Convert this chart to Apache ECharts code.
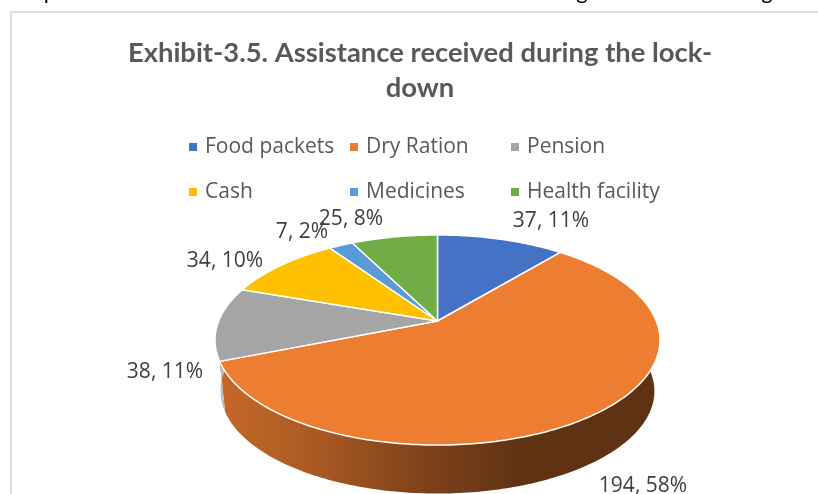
<!DOCTYPE html>
<html>
<head>
<meta charset="utf-8">
<style>
  html, body { margin: 0; padding: 0; background: #fff; }
  #chart { width: 818px; height: 494px; }
</style>
</head>
<body>
<div id="chart"></div>
<script src="https://cdn.jsdelivr.net/npm/echarts@6/dist/echarts.min.js"></script>
<script>
const categories = ['Food packets', 'Dry Ration', 'Pension', 'Cash', 'Medicines', 'Health facility'];
const values = [37, 194, 38, 34, 7, 25];
const percents = [11, 58, 11, 10, 2, 8];
const colors = ['#4472C4', '#ED7D31', '#A5A5A5', '#FFC000', '#5B9BD5', '#70AD47'];
const wallColors = ['#4472C4', '#ED7D31', '#E2E4E8', '#FFC000', '#5B9BD5', '#70AD47'];

// where the data labels sit, in the same order as the categories
const labelSpots = [[551, 221], [643, 486], [165, 372], [225, 261], [302, 232], [351, 219]];

// bits of the body text line above the chart, cut off by the crop
const croppedText = [['p', 50], ['g', 582], ['g', 767]];

const total = values.reduce((a, b) => a + b, 0);

// start angle of each slice, clockwise from 12 o'clock
const startAngles = [];
values.reduce((sum, v, i) => {
  startAngles[i] = (sum / total) * 360;
  return sum + v;
}, 0);

// perspective projection of the pie disc
const apex = { x: 437.5, y: 321 };
const disc = { a: 218.8, b: 101.6, c: 0.181 };
const bottomPlane = { scale: 0.975, drop: 51.6 };

function project(deg, scale = 1, drop = 0) {
  const rad = (deg * Math.PI) / 180;
  const u = Math.sin(rad);
  const v = -Math.cos(rad);
  const d = 1 - disc.c * v;
  return [
    apex.x + (scale * disc.a * u) / d,
    apex.y + drop + (scale * disc.b * v) / d,
  ];
}

function arc(from, to, scale, drop) {
  const steps = Math.max(2, Math.ceil(to - from));
  const pts = [];
  for (let i = 0; i <= steps; i++) {
    pts.push(project(from + ((to - from) * i) / steps, scale, drop));
  }
  return pts;
}

function shade(hex, f) {
  const n = parseInt(hex.slice(1), 16);
  const ch = [n >> 16, (n >> 8) & 255, n & 255].map(c => Math.round(c * f));
  return `rgb(${ch.join(',')})`;
}

function wallFill(color) {
  return {
    type: 'linear',
    global: true,
    x: 220,
    y: 0,
    x2: 660,
    y2: 0,
    colorStops: [
      { offset: 0, color: shade(color, 0.83) },
      { offset: 0.18, color: shade(color, 0.74) },
      { offset: 0.41, color: shade(color, 0.57) },
      { offset: 0.68, color: shade(color, 0.4) },
      { offset: 1, color: shade(color, 0.4) },
    ],
  };
}

function sweepOf(index, value) {
  return [startAngles[index], startAngles[index] + (value / total) * 360];
}

function renderWall(params, api) {
  const i = params.dataIndex;
  const [from, to] = sweepOf(i, api.value(0));
  const upper = arc(from, to);
  const lower = arc(from, to, bottomPlane.scale, bottomPlane.drop).reverse();
  return {
    type: 'polygon',
    shape: { points: upper.concat(lower) },
    style: { fill: wallFill(wallColors[i]) },
  };
}

function renderSlice(index) {
  return (params, api) => {
    const value = api.value(0);
    const [from, to] = sweepOf(index, value);
    return {
      type: 'group',
      children: [
        {
          type: 'polygon',
          shape: { points: [[apex.x, apex.y]].concat(arc(from, to)) },
          style: { fill: colors[index], stroke: '#fff', lineWidth: 1.5, lineJoin: 'round' },
        },
        {
          type: 'text',
          z2: 10,
          style: {
            x: labelSpots[index][0],
            y: labelSpots[index][1],
            text: `${value}, ${percents[index]}%`,
            align: 'center',
            verticalAlign: 'middle',
            fill: '#404040',
            font: '21px "Open Sans"',
          },
        },
      ],
    };
  };
}

const legendText = {
  color: '#595959',
  fontFamily: 'Open Sans',
  fontSize: 21,
  lineHeight: 28,
  padding: [0, 0, 0, 3],
};

function legendColumn(left, names) {
  return {
    left,
    top: 133,
    orient: 'vertical',
    icon: 'rect',
    itemWidth: 8,
    itemHeight: 8,
    itemGap: 17,
    padding: 0,
    selectedMode: false,
    data: names,
    textStyle: legendText,
  };
}

const option = {
  animation: false,
  title: {
    text: 'Exhibit-3.5. Assistance received during the lock-\ndown',
    left: 420,
    top: 36,
    textAlign: 'center',
    padding: 0,
    textStyle: {
      color: '#595959',
      fontFamily: 'Lato',
      fontWeight: 'bold',
      fontSize: 27.4,
      lineHeight: 35,
    },
  },
  legend: [
    legendColumn(189, [categories[0], categories[3]]),
    legendColumn(350, [categories[1], categories[4]]),
    legendColumn(511, [categories[2], categories[5]]),
  ],
  graphic: [
    {
      type: 'polyline',
      shape: { points: [[11, 494], [11, 12], [818, 12]] },
      style: { stroke: '#DEDEDE', lineWidth: 2, fill: null },
      silent: true,
    },
    ...croppedText.map(([text, x]) => ({
      type: 'text',
      silent: true,
      style: {
        x,
        y: -8,
        text,
        align: 'center',
        verticalAlign: 'middle',
        fill: '#000',
        font: '22px Lato',
      },
    })),
  ],
  series: [
    {
      name: 'walls',
      type: 'custom',
      coordinateSystem: 'none',
      z: 1,
      silent: true,
      data: values.map(v => [v]),
      renderItem: renderWall,
    },
    ...categories.map((name, i) => ({
      name,
      type: 'custom',
      coordinateSystem: 'none',
      z: 2,
      silent: true,
      itemStyle: { color: colors[i] },
      data: [[values[i]]],
      renderItem: renderSlice(i),
    })),
  ],
};

const myChart = echarts.init(document.getElementById('chart'), null, { renderer: 'canvas' });
myChart.setOption(option);
</script>
</body>
</html>
